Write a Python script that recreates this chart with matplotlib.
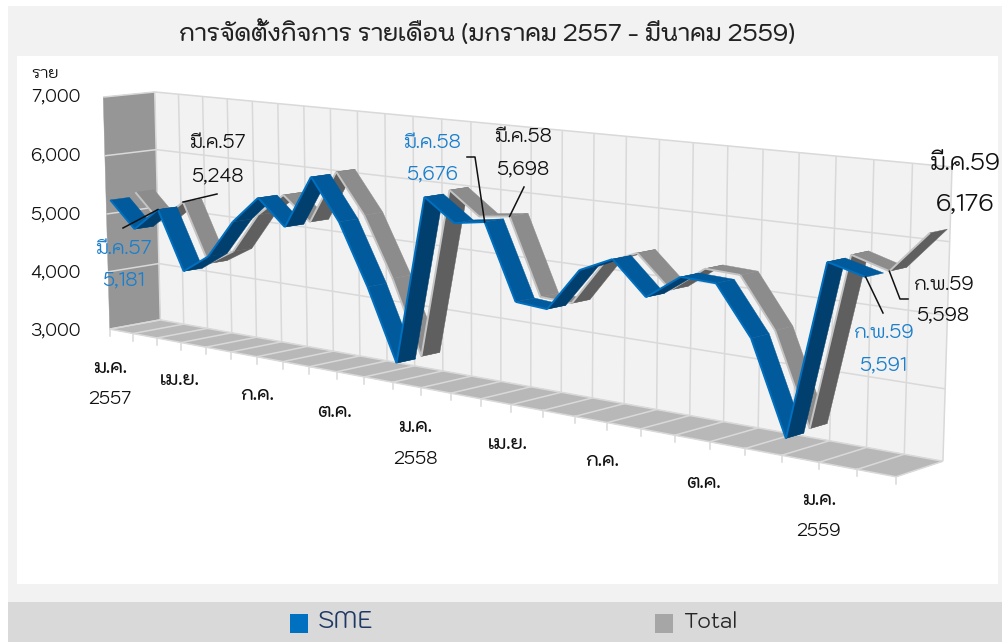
import matplotlib
matplotlib.use("Agg")
import matplotlib.pyplot as plt
from matplotlib.patches import Polygon, Rectangle
import numpy as np

months = np.arange(27)
value_ticks = [3000, 4000, 5000, 6000, 7000]
sme = [5232, 4790, 5181, 4199, 4512, 5148, 5599, 5183, 6043, 5385, 4419, 3289, 5943, 5601, 5676, 4541, 4504, 5151, 5377, 4895, 5255, 5233, 4536, 3221, 5728, 5591]
total = [5307, 4860, 5248, 4259, 4530, 5200, 5587, 5201, 6068, 5429, 4480, 3310, 5990, 5637, 5698, 4539, 4515, 5190, 5397, 4925, 5300, 5277, 4564, 3259, 5756, 5598, 6176]
month_labels = ["ม.ค.", "เม.ย.", "ก.ค.", "ต.ค.", "ม.ค.", "เม.ย.", "ก.ค.", "ต.ค.", "ม.ค."]
year_labels = ["2557", "2558", "2559"]

plt.rcParams["font.family"] = ["Kodchasan", "Loma", "DejaVu Sans"]

# camera fitted on the corners of the chart box
box_pts = [(0, 3, 0), (0, 7, 0), (0, 3, 1), (0, 7, 1), (26, 3, 0), (26, 3, 1), (26, 7, 1)]
scr_pts = [(110, 329), (103, 97), (160, 320), (155, 92), (896, 477), (943, 461), (952, 167)]
rows, rhs = [], []
for (m, v, d), (x, y) in zip(box_pts, scr_pts):
    rows.append([m, v, d, 1, 0, 0, 0, 0, -x * m, -x * v, -x * d])
    rhs.append(x)
    rows.append([0, 0, 0, 0, m, v, d, 1, -y * m, -y * v, -y * d])
    rhs.append(y)
cam = np.append(np.linalg.lstsq(np.array(rows, float), np.array(rhs, float), rcond=None)[0], 1).reshape(3, 4)


def project(m, v, d):
    point = cam @ np.array([m, v / 1000, d, 1.0])
    return point[0] / point[2], point[1] / point[2]


fig = plt.figure(figsize=(10.02, 6.42), dpi=100)
ax = fig.add_axes([0, 0, 1, 1])
ax.set_xlim(0, 1002)
ax.set_ylim(642, 0)
ax.axis("off")

ax.add_patch(Rectangle((8, 6), 994, 596, color="#f2f2f2", lw=0))
ax.add_patch(Rectangle((17, 56), 981, 528, color="#ffffff", lw=0))
ax.add_patch(Rectangle((8, 602), 994, 40, color="#d9d9d9", lw=0))


def quad(corners, color, z=1):
    ax.add_patch(Polygon([project(*c) for c in corners], closed=True, fc=color, ec=color, lw=0.3, zorder=z))


def line(a, b, color, lw=1.1, z=2):
    xa, ya = project(*a)
    xb, yb = project(*b)
    ax.plot([xa, xb], [ya, yb], color=color, lw=lw, zorder=z, solid_capstyle="butt")


# walls and floor
quad([(0, 3000, 1), (0, 7000, 1), (26, 7000, 1), (26, 3000, 1)], "#f2f2f2")
quad([(0, 3000, 0), (0, 7000, 0), (0, 7000, 1), (0, 3000, 1)], "#969696")
quad([(0, 3000, 0), (0, 3000, 1), (26, 3000, 1), (26, 3000, 0)], "#b8b8b8")
for v in value_ticks:
    line((0, v, 1), (26, v, 1), "#d9d9d9")
    line((0, v, 0), (0, v, 1), "#d9d9d9")
for m in months:
    line((m, 3000, 1), (m, 7000, 1), "#d9d9d9")
    line((m, 3000, 0), (m, 3000, 1), "#d9d9d9")
    x, y = project(m, 3000, 0)
    ax.plot([x, x], [y, y + 7], color="#d9d9d9", lw=1.1, zorder=2)
line((0, 3000, 0), (26, 3000, 0), "#d9d9d9")


def ribbon(values, d0, d1, top, under, edge, z):
    for i in range(len(values) - 1):
        a, b = values[i], values[i + 1]
        corners = [(i, a, d0), (i + 1, b, d0), (i + 1, b, d1), (i, a, d1)]
        xy = np.array([project(*c) for c in corners])
        area = np.sum(xy[:, 0] * np.roll(xy[:, 1], -1) - np.roll(xy[:, 0], -1) * xy[:, 1])
        # the side of the band that faces the camera decides the shade
        quad(corners, top if area < 0 else under, z + i * 0.01)
        line((i, a, d0), (i + 1, b, d0), edge, lw=1.4, z=z + i * 0.01 + 0.005)


ribbon(total, 0.57, 0.94, "#8c8c8c", "#5f5f5f", "#c4c4c4", 3)
ribbon(sme, 0.08, 0.45, "#005a9c", "#003f6e", "#0070c0", 4)

# axis labels
for v, tick_y in zip(value_ticks, [331, 273, 215, 156, 97]):
    ax.text(81, tick_y, f"{v:,}", ha="right", va="center", fontsize=12.5, color="#111111", zorder=9)
ax.text(45, 75, "ราย", ha="center", va="center", fontsize=11.5, color="#111111")
for i, text in enumerate(month_labels):
    x, y = project(i * 3, 3000, 0)
    ax.text(x + [0, -1, 0, -2, -6, -4, -5, -6, 0][i], y + [39, 38, 39, 41, 40, 40, 39, 42, 38][i],
            text, ha="center", va="center", fontsize=13.5, fontweight="medium", color="#111111", zorder=9)
for i, text in enumerate(year_labels):
    x, y = project(i * 12, 3000, 0)
    ax.text(x + [0, -6, 0][i], y + [70, 72, 69][i], text, ha="center", va="center", fontsize=12.5, color="#111111", zorder=9)

ax.text(487, 35, "การจัดตั้งกิจการ รายเดือน (มกราคม 2557 - มีนาคม 2559)", ha="center", va="center",
        fontsize=16.6, fontweight="medium", color="#222222")

# callouts
BLUE = "#1b7fcc"


def callout(name, number, x, y1, y2, color, size=13.5, num_size=13.5):
    ax.text(x, y1 + 2, name, ha="center", va="center", fontsize=size, color=color, zorder=9)
    ax.text(x, y2 + 2, number, ha="center", va="center", fontsize=num_size, color=color, zorder=9)


callout("มี.ค.57", "5,248", 217, 142, 175, "#111111")
callout("มี.ค.57", "5,181", 123, 247, 279, BLUE)
callout("มี.ค.58", "5,676", 432, 141, 173, BLUE)
callout("มี.ค.58", "5,698", 523, 135, 168, "#111111")
callout("มี.ค.59", "6,176", 965, 163, 203, "#111111", 16.5, 17)
callout("ก.พ.59", "5,598", 943, 283, 314, "#111111")
callout("ก.พ.59", "5,591", 883, 332, 364, BLUE)


def leader(points, m, v, d):
    xy = points + [project(m, v, d)]
    ax.plot([p[0] for p in xy], [p[1] for p in xy], color="#111111", lw=1.1, zorder=8)


leader([(217, 194)], 2, total[2], 0.57)
leader([(123, 228)], 2, sme[2], 0.08)
leader([(467, 157), (475, 157)], 14, sme[14], 0.08)
leader([(524, 187)], 14, total[14], 0.57)
leader([(908, 299), (900, 299)], 25, total[25], 0.57)
leader([(883, 313)], 25, sme[25], 0.08)

# legend
ax.add_patch(Rectangle((290, 614), 18, 19, color="#0070c0", lw=0))
ax.text(318, 623, "SME", va="center", fontsize=17.5, color="#1f3864")
ax.add_patch(Rectangle((655, 614), 18, 19, color="#a6a6a6", lw=0))
ax.text(683, 623, "Total", va="center", fontsize=15, color="#262626")

fig.savefig("out.png", dpi=100)
